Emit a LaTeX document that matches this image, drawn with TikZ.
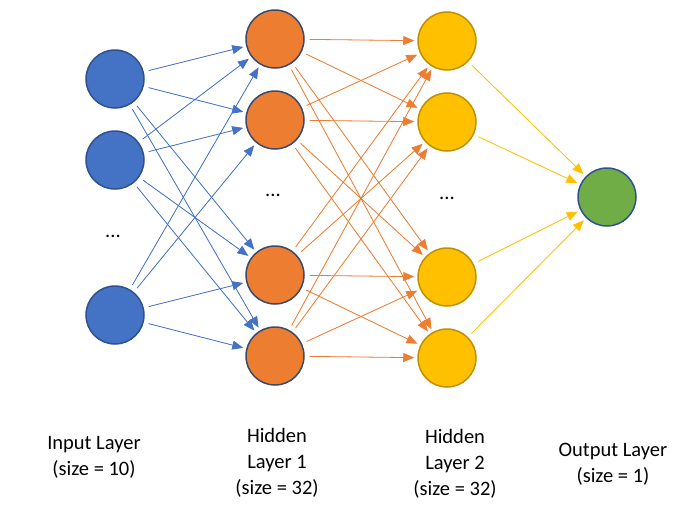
\documentclass[tikz,border=0pt]{standalone}
\usepackage{fontspec}
\setmainfont{Carlito}
\usetikzlibrary{arrows.meta}
\definecolor{inblue}{HTML}{4472C4}
\definecolor{inborder}{HTML}{2F528F}
\definecolor{hidorange}{HTML}{ED7D31}
\definecolor{hidborder}{HTML}{3B4A6B}
\definecolor{hidyellow}{HTML}{FFC000}
\definecolor{yelborder}{HTML}{BF9000}
\definecolor{outgreen}{HTML}{70AD47}
\begin{document}
\begin{tikzpicture}[x=1pt,y=-1pt,
  neuron/.style={circle,minimum size=58pt,inner sep=0pt,line width=1.5pt},
  inneuron/.style={neuron,fill=inblue,draw=inborder},
  h1neuron/.style={neuron,fill=hidorange,draw=hidborder},
  h2neuron/.style={neuron,fill=hidyellow,draw=yelborder},
  outneuron/.style={neuron,fill=outgreen,draw=inborder},
  conn/.style={line width=0.8pt,-{Triangle[length=11pt,width=9pt]},shorten <=5pt,shorten >=3pt},
  label/.style={font=\fontsize{20.5}{26}\selectfont,align=center},
  dots/.style={font=\fontsize{20.5}{22}\selectfont}]
\useasboundingbox (0,0) rectangle (683,515);
\node[inneuron] (i1) at (115,79) {};
\node[inneuron] (i2) at (115,160) {};
\node[inneuron] (i3) at (115,315) {};
\node[h1neuron] (a1) at (275,39) {};
\node[h1neuron] (a2) at (275,120) {};
\node[h1neuron] (a3) at (275,275) {};
\node[h1neuron] (a4) at (275,356) {};
\node[h2neuron] (b1) at (447,41) {};
\node[h2neuron] (b2) at (447,122) {};
\node[h2neuron] (b3) at (447,277) {};
\node[h2neuron] (b4) at (447,358) {};
\node[outneuron] (o) at (607,197) {};
\node[dots] (d1) at (113,236) {...};
\node[dots] (d2) at (273,195) {...};
\node[dots] (d3) at (447,198) {...};
\foreach \s in {i1,i2,i3}{\foreach \t in {a1,a2,a3,a4}{\draw[conn,draw=inblue,fill=inblue] (\s) -- (\t);}}
\foreach \s in {a1,a2,a3,a4}{\foreach \t in {b1,b2,b3,b4}{\draw[conn,draw=hidorange,fill=hidorange] (\s) -- (\t);}}
\foreach \s in {b1,b2,b3,b4}{\draw[conn,draw=hidyellow,fill=hidyellow] (\s) -- (o);}
\node[label] (l1) at (94,457) {Input Layer\\(size = 10)};
\node[label] (l2) at (277,463) {Hidden\\Layer 1\\(size = 32)};
\node[label] (l3) at (455,464) {Hidden\\Layer 2\\(size = 32)};
\node[label] (l4) at (613,464) {Output Layer\\(size = 1)};
\end{tikzpicture}
\end{document}
